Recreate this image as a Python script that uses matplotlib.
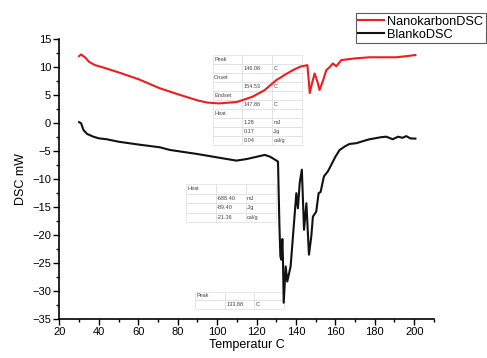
import matplotlib
matplotlib.use("Agg")
import matplotlib.pyplot as plt
from matplotlib.ticker import MultipleLocator

plt.rcParams['font.family'] = ['Liberation Sans', 'DejaVu Sans']

# Nanokarbon DSC (red)
nano_x = [30, 31, 33, 35, 38, 42, 50, 60, 71, 80, 90, 95, 101, 110, 118, 124, 130, 135,
          138.5, 142, 145.8, 146.4, 147.0, 148.2, 149.5, 151.0, 152.0, 153.6, 155.4, 157,
          158.7, 160.5, 163.0, 170, 177.3, 185, 190.8, 196, 200.6]
nano_y = [12.0, 12.3, 11.8, 11.0, 10.4, 10.0, 9.1, 7.9, 6.25, 5.2, 4.1, 3.7, 3.55, 3.8,
          4.75, 5.9, 7.7, 8.8, 9.5, 10.1, 10.4, 8.0, 5.4, 7.2, 8.9, 7.3, 5.95, 7.5, 9.5, 10.0,
          10.7, 10.2, 11.3, 11.6, 11.8, 11.8, 11.8, 12.0, 12.2]

# Blanko DSC (black)
blank_x = [30, 31, 32.2, 34, 37.2, 40, 44, 50, 60, 71, 76, 90, 100, 109.8, 115, 120, 124.2,
           127, 130.9, 131.6, 132.1, 132.6, 133.1, 133.4, 133.8, 134.8, 135.6, 137.3, 139.0,
           140.2, 141.0, 141.9, 143.0, 144.1, 145.3, 146.6, 147.8, 148.6, 150.3, 151.5,
           152.5, 154.2, 156.2, 157.9, 160, 162.1, 165, 167.2, 170.6, 174, 177.3, 180, 183,
           185.8, 189.1, 191.8, 194, 196, 198, 200.6]
blank_y = [0.2, 0.0, -1.2, -1.9, -2.4, -2.7, -2.86, -3.3, -3.8, -4.3, -4.77, -5.5, -6.1,
           -6.68, -6.4, -6.0, -5.66, -6.0, -6.85, -18.0, -23.8, -24.4, -20.7, -24.0, -32.1,
           -25.6, -28.3, -25.6, -17.9, -12.5, -15.2, -10.7, -8.3, -19.05, -14.3, -23.5,
           -20.2, -16.7, -15.8, -12.5, -12.3, -9.5, -8.6, -7.45, -6.0, -4.8, -4.1, -3.7,
           -3.57, -3.2, -2.86, -2.7, -2.5, -2.4, -2.86, -2.4, -2.6, -2.3, -2.7, -2.75]

series_labels = ["NanokarbonDSC", "BlankoDSC"]

table1 = [["Peak", "", ""], ["", "146.06", "C"], ["Onset", "", ""], ["", "154.53", "C"],
          ["Endset", "", ""], ["", "147.86", "C"], ["Heat", "", ""],
          ["", "1.28", "mJ"], ["", "0.17", "J/g"], ["", "0.04", "cal/g"]]
table2 = [["Heat", "", ""], ["", "-688.40", "mJ"], ["", "-89.40", "J/g"], ["", "-21.36", "cal/g"]]
table3 = [["Peak", "", ""], ["", "133.88", "C"]]

fig = plt.figure(figsize=(4.87, 3.58), dpi=100)
ax = fig.add_axes([0.122, 0.109, 0.769, 0.781])

ax.plot(nano_x, nano_y, color='#ee1c1c', lw=1.5, label=series_labels[0], zorder=3)
ax.plot(blank_x, blank_y, color='#111111', lw=1.5, label=series_labels[1], zorder=3)

ax.set_xlim(20, 210)
ax.set_ylim(-35, 15)
ax.xaxis.set_major_locator(MultipleLocator(20))
ax.xaxis.set_minor_locator(MultipleLocator(10))
ax.yaxis.set_major_locator(MultipleLocator(5))
ax.yaxis.set_minor_locator(MultipleLocator(2.5))
ax.set_xticks([20, 40, 60, 80, 100, 120, 140, 160, 180, 200])
ax.tick_params(which='major', direction='out', length=4, width=1, labelsize=8, pad=2)
ax.tick_params(which='minor', direction='out', length=2.5, width=1)
for s in ['top', 'right']:
    ax.spines[s].set_visible(False)
for s in ['left', 'bottom']:
    ax.spines[s].set_linewidth(1.2)
ax.set_xlabel("Temperatur C", fontsize=9, labelpad=1)
ax.set_ylabel("DSC mW", fontsize=9, labelpad=4)

def draw_table(data, bbox):
    t = ax.table(cellText=data, bbox=bbox, cellLoc='left', zorder=2)
    t.auto_set_font_size(False)
    t.set_fontsize(4)
    for (r, c), cell in t.get_celld().items():
        cell.set_edgecolor('#dddddd')
        cell.set_linewidth(0.5)
        cell.set_facecolor('white')
        cell.PAD = 0.05
        cell.get_text().set_color('#444444')
    return t

draw_table(table1, [0.409, 0.622, 0.2375, 0.322])
draw_table(table2, [0.337, 0.346, 0.240, 0.137])
draw_table(table3, [0.362, 0.035, 0.2375, 0.063])

leg = fig.legend(loc='upper right', bbox_to_anchor=(486 / 487, 1 - 13 / 358), fontsize=9.2,
                 frameon=True, fancybox=False, edgecolor='#333333', handlelength=2.0,
                 borderpad=0.2, labelspacing=0.1, handletextpad=0.3, borderaxespad=0)
leg.get_frame().set_linewidth(0.8)

fig.savefig("out.png", dpi=100)
